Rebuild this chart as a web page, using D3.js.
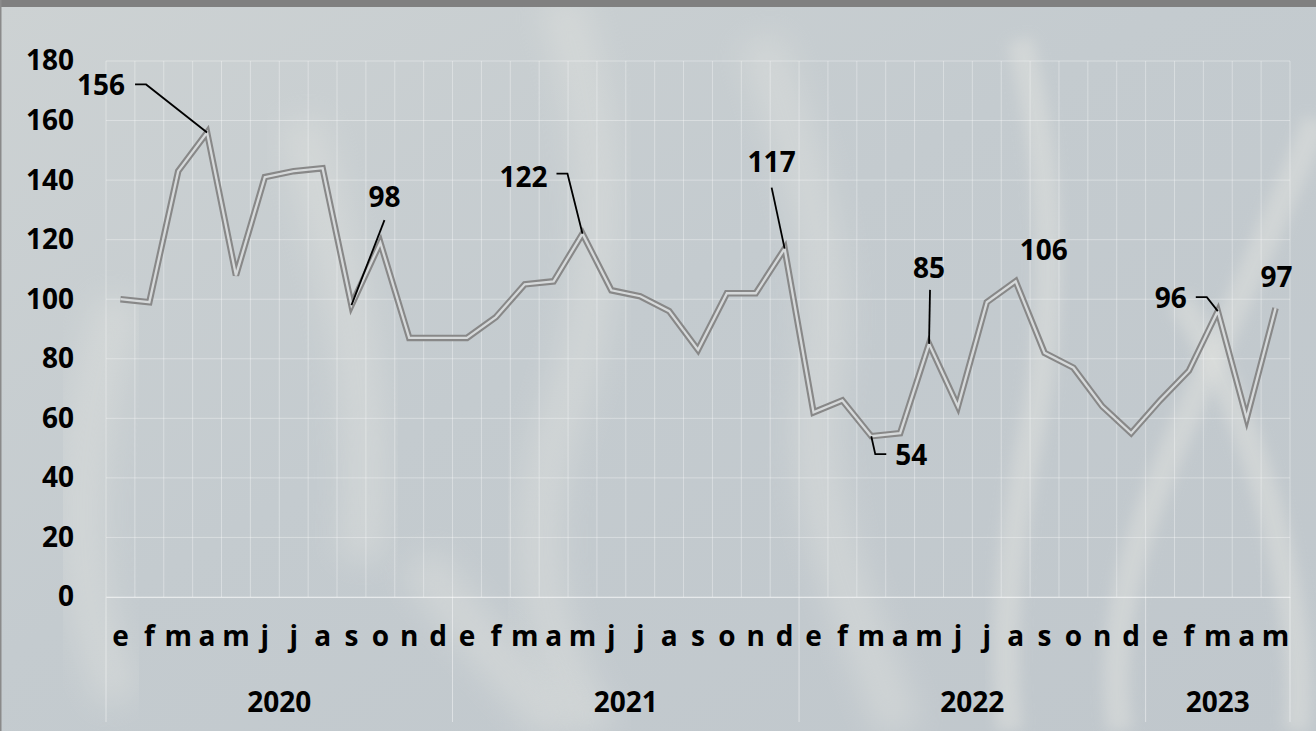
<!DOCTYPE html>
<html>
<head>
<meta charset="utf-8">
<script src="https://cdn.jsdelivr.net/npm/d3@7"></script>
<style>
  html, body { margin: 0; padding: 0; background: #c8ced1; }
  svg { display: block; font-family: "Open Sans", "Noto Sans", sans-serif; font-weight: 700; }
</style>
</head>
<body>
<script>
// monthly values, Jan 2020 .. May 2023
const months = ["e","f","m","a","m","j","j","a","s","o","n","d"];
const years = ["2020", "2021", "2022", "2023"];
const yearMonths = [12, 12, 12, 5];
const values = [
  100, 99, 143, 156, 108, 141, 143, 144, 98, 119, 87, 87,
  87, 94, 105, 106, 122, 103, 101, 96, 83, 102, 102, 117,
  62, 66, 54, 55, 85, 64, 99, 106, 82, 77, 64, 55,
  66, 76, 96, 60, 97
];
const yTicks = [0, 20, 40, 60, 80, 100, 120, 140, 160, 180];
const labelled = [3, 8, 16, 23, 26, 28, 31, 38, 40];

const w = 1316, h = 731;
const plotL = 106, plotR = 1290, plotT = 61, plotB = 597;
const fs = 28;

const svg = d3.select("body").append("svg")
  .attr("width", w)
  .attr("height", h);

// background, a soft grey-blue "photo" look
const defs = svg.append("defs");
const bg = defs.append("linearGradient").attr("id", "bg")
  .attr("x1", "0").attr("y1", "0").attr("x2", "1").attr("y2", "1");
bg.append("stop").attr("offset", "0%").attr("stop-color", "#cdd2d3");
bg.append("stop").attr("offset", "45%").attr("stop-color", "#c4cbcf");
bg.append("stop").attr("offset", "100%").attr("stop-color", "#c0c7cc");
defs.append("filter").attr("id", "blur")
  .attr("x", "-50%").attr("y", "-50%").attr("width", "200%").attr("height", "200%")
  .append("feGaussianBlur").attr("stdDeviation", 16);
defs.append("filter").attr("id", "blur2")
  .attr("x", "-50%").attr("y", "-50%").attr("width", "200%").attr("height", "200%")
  .append("feGaussianBlur").attr("stdDeviation", 7);

svg.append("rect").attr("width", w).attr("height", h).attr("fill", "url(#bg)");

const deco = svg.append("g");
const soft = [
  "M560,0 C600,120 620,260 560,420 C520,540 540,640 600,731",
  "M760,40 C800,160 840,260 820,380 C800,500 860,620 900,731",
  "M300,120 C340,260 380,400 360,560",
  "M120,300 C80,420 60,560 120,700",
  "M420,560 C460,620 520,680 560,731"
];
deco.selectAll("path.soft").data(soft).enter().append("path")
  .attr("class", "soft")
  .attr("d", d => d)
  .attr("fill", "none")
  .attr("stroke", "#e4e5e1")
  .attr("stroke-width", 44)
  .attr("opacity", 0.4)
  .attr("filter", "url(#blur)");
const ribbons = [
  "M1020,40 C1050,160 1060,300 1030,440 C1010,540 1000,640 1010,731",
  "M1316,120 C1260,260 1200,380 1160,480 C1120,580 1110,660 1120,731",
  "M1180,300 C1230,380 1270,480 1290,600 C1300,660 1300,700 1296,731"
];
deco.selectAll("path.rib").data(ribbons).enter().append("path")
  .attr("class", "rib")
  .attr("d", d => d)
  .attr("fill", "none")
  .attr("stroke", "#e3e4e0")
  .attr("stroke-width", 26)
  .attr("opacity", 0.45)
  .attr("filter", "url(#blur2)");

// frame
svg.append("rect").attr("x", 0).attr("y", 0).attr("width", w).attr("height", 7).attr("fill", "#808080");
svg.append("rect").attr("x", 0).attr("y", 0).attr("width", 1.5).attr("height", h).attr("fill", "#8a8a8a");

const x = d3.scaleBand()
  .domain(d3.range(values.length))
  .range([plotL, plotR])
  .padding(0);
const bw = x.bandwidth();
const y = d3.scaleLinear().domain([0, 180]).range([plotB, plotT]);

// grid
const grid = svg.append("g").attr("stroke", "#ffffff").attr("stroke-opacity", 0.35).attr("stroke-width", 1);
grid.selectAll("line.h").data(yTicks).enter().append("line")
  .attr("x1", plotL).attr("x2", plotR)
  .attr("y1", d => y(d)).attr("y2", d => y(d));
grid.selectAll("line.v").data(d3.range(values.length + 1)).enter().append("line")
  .attr("x1", i => plotL + i * bw).attr("x2", i => plotL + i * bw)
  .attr("y1", plotT).attr("y2", plotB);

// y axis labels
const yAxis = d3.axisLeft(y).tickValues(yTicks).tickSize(0).tickPadding(0);
svg.append("g")
  .attr("transform", "translate(74,0)")
  .call(yAxis)
  .call(g => g.select(".domain").remove())
  .selectAll("text")
  .attr("font-family", "'Open Sans', sans-serif")
  .attr("font-weight", 700)
  .attr("font-size", fs)
  .attr("fill", "#000");

// x axis: month letters + year groups
const xAxis = d3.axisBottom(x).tickSize(0).tickPadding(0)
  .tickFormat(i => months[i % 12]);
svg.append("g")
  .attr("transform", "translate(0," + plotB + ")")
  .call(xAxis)
  .call(g => g.select(".domain").attr("stroke", "#ffffff").attr("stroke-opacity", 0.5))
  .selectAll("text")
  .attr("y", 39)
  .attr("dy", "0.35em")
  .attr("font-family", "'Open Sans', sans-serif")
  .attr("font-weight", 700)
  .attr("font-size", fs)
  .attr("fill", "#000");

let start = 0;
const yearBounds = years.map((yr, k) => {
  const s = start;
  start += yearMonths[k];
  return { yr: yr, s: s, e: start };
});
const yearG = svg.append("g");
yearG.selectAll("line").data(d3.range(values.length + 1).filter(i => i === 0 || yearBounds.some(b => b.e === i)))
  .enter().append("line")
  .attr("x1", i => plotL + i * bw).attr("x2", i => plotL + i * bw)
  .attr("y1", plotB).attr("y2", 722)
  .attr("stroke", "#ffffff").attr("stroke-opacity", 0.45);
yearG.selectAll("text").data(yearBounds).enter().append("text")
  .attr("x", b => plotL + (b.s + b.e) / 2 * bw)
  .attr("y", 702)
  .attr("dy", "0.35em")
  .attr("text-anchor", "middle")
  .attr("font-size", fs)
  .attr("fill", "#000")
  .text(b => b.yr);

// the double line
const line = d3.line()
  .x((d, i) => x(i) + bw / 2)
  .y(d => y(d));
svg.append("path").datum(values)
  .attr("d", line)
  .attr("fill", "none")
  .attr("stroke", "#888888")
  .attr("stroke-width", 6.5)
  .attr("stroke-linejoin", "miter");
svg.append("path").datum(values)
  .attr("d", line)
  .attr("fill", "none")
  .attr("stroke", "#d6d9da")
  .attr("stroke-width", 2.3)
  .attr("stroke-linejoin", "miter");

// callouts: text offset from the point and leader elbow (pixels)
const place = {
  3:  { tx: -82, ty: -47, anchor: "end",    lead: [[-61, -48], [-72, -48]] },
  8:  { tx: 33,  ty: -108, anchor: "middle", lead: [[33, -85]] },
  16: { tx: -35, ty: -57, anchor: "end",    lead: [[-15, -60], [-26, -60]] },
  23: { tx: -13, ty: -86, anchor: "middle", lead: [[-13, -61]] },
  26: { tx: 24,  ty: 19,  anchor: "start",  lead: [[4, 18], [15, 18]] },
  28: { tx: 0,   ty: -76, anchor: "middle", lead: [[1, -54]] },
  31: { tx: 28,  ty: -31, anchor: "middle", lead: null },
  38: { tx: -31, ty: -13, anchor: "end",    lead: [[-11, -14], [-22, -14]] },
  40: { tx: 1,   ty: -31, anchor: "middle", lead: null }
};
const ann = svg.append("g");
labelled.forEach(i => {
  const px = x(i) + bw / 2, py = y(values[i]);
  const p = place[i];
  if (p.lead) {
    const pts = [[px, py]].concat(p.lead.map(q => [px + q[0], py + q[1]]));
    ann.append("path")
      .attr("d", d3.line()(pts))
      .attr("fill", "none")
      .attr("stroke", "#000")
      .attr("stroke-width", 1.8);
  }
  ann.append("text")
    .attr("x", px + p.tx)
    .attr("y", py + p.ty)
    .attr("dy", "0.35em")
    .attr("text-anchor", p.anchor)
    .attr("font-size", fs)
    .attr("fill", "#000")
    .text(values[i]);
});
</script>
</body>
</html>
